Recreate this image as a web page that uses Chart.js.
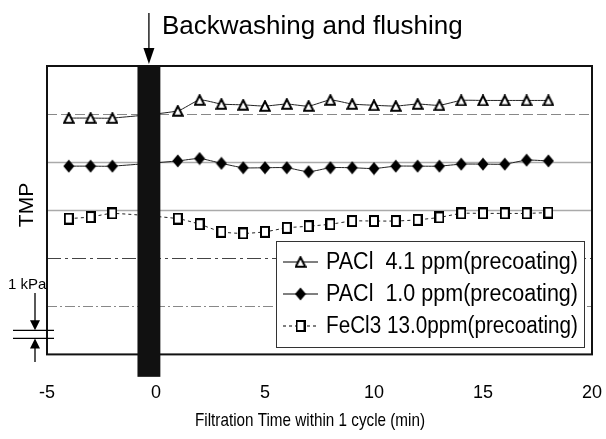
<!DOCTYPE html>
<html><head><meta charset="utf-8">
<script src="https://cdn.jsdelivr.net/npm/chart.js@4.4.1/dist/chart.umd.min.js"></script>
<style>html,body{margin:0;padding:0;background:#fff;overflow:hidden}canvas{display:block}</style>
</head><body><canvas id="c" width="606" height="439"></canvas>
<script>
// ---- data ----
const timesMin = [-4,-3,-2,1,2,3,4,5,6,7,8,9,10,11,12,13,14,15,16,17,18];
const pacl41 = [29.5,29.5,29.5,30.4,31.75,31.25,31.15,31.0,31.25,31.0,31.75,31.25,31.1,31.0,31.25,31.1,31.7,31.7,31.7,31.7,31.7];
const pacl10 = [23.5,23.5,23.5,24.15,24.45,23.85,23.3,23.3,23.3,22.8,23.3,23.3,23.2,23.5,23.5,23.5,23.75,23.75,23.75,24.25,24.15];
const fecl3  = [16.95,17.15,17.6,16.95,16.25,15.3,15.1,15.3,15.8,16.0,16.25,16.65,16.65,16.65,16.8,17.1,17.6,17.6,17.6,17.6,17.7];
const seriesLabels = ['PACl  4.1 ppm(precoating)','PACl  1.0 ppm(precoating)','FeCl3 13.0ppm(precoating)'];
const xTickValues = [-5,0,5,10,15,20];
const xTitle = 'Filtration Time within 1 cycle (min)';
const backwashRange = [-0.85, 0.2];
const kPaScale = [2, 3]; // the 1 kPa bar

const SANS = "'Liberation Sans',Arial,Helvetica,sans-serif";

function mk(w,h,draw){const c=document.createElement('canvas');c.width=w;c.height=h;const g=c.getContext('2d');draw(g);return c;}
const triImg = mk(12,12,g=>{g.beginPath();g.moveTo(6,1.2);g.lineTo(10.8,10.8);g.lineTo(1.2,10.8);g.closePath();g.fillStyle='#fff';g.fill();g.lineWidth=2;g.strokeStyle='#000';g.stroke();});
const diaImg = mk(12,14,g=>{g.beginPath();g.moveTo(6,0.5);g.lineTo(11.5,7);g.lineTo(6,13.5);g.lineTo(0.5,7);g.closePath();g.fillStyle='#000';g.fill();});
const sqImg  = mk(10,12,g=>{g.fillStyle='#fff';g.fillRect(1,1,8,10);g.lineWidth=2;g.strokeStyle='#000';g.strokeRect(1,1,8,10);});

const pts = arr => timesMin.map((t,i)=>({x:t,y:arr[i]}));

function squeezeText(ctx, s, x, y, target){
  const w = ctx.measureText(s).width;
  ctx.save(); ctx.translate(x,y); ctx.scale(target/w,1); ctx.fillText(s,0,0); ctx.restore();
}

const decor = {
  id:'decor',
  beforeDatasetsDraw(chart){
    const {ctx, chartArea:a, scales:{y}} = chart;
    ctx.save();
    const styles = {6:{c:'#888',d:[10,3,2,3],w:1},12:{c:'#444',d:[14,4,3,4],w:1},18:{c:'#aaa',d:[],w:1.5},24:{c:'#aaa',d:[],w:1.5},30:{c:'#888',d:[10,4],w:1}};
    y.ticks.forEach(t=>{
      const s = styles[t.value]; if(!s) return;
      const py = Math.round(y.getPixelForValue(t.value))+0.5;
      ctx.beginPath(); ctx.setLineDash(s.d); ctx.strokeStyle=s.c; ctx.lineWidth=s.w;
      ctx.moveTo(a.left,py); ctx.lineTo(a.right,py); ctx.stroke();
    });
    ctx.restore();
  },
  afterDatasetsDraw(chart){
    const {ctx, chartArea:a, scales:{x,y}} = chart;
    ctx.save();
    // frame
    ctx.setLineDash([]); ctx.strokeStyle='#111'; ctx.lineWidth=2;
    ctx.strokeRect(a.left,a.top,a.right-a.left,a.bottom-a.top);
    // backwash bar
    const bx0 = x.getPixelForValue(backwashRange[0]), bx1 = x.getPixelForValue(backwashRange[1]);
    const byTop = y.getPixelForValue(36.1), byBot = y.getPixelForValue(-2.8);
    ctx.fillStyle='#111'; ctx.fillRect(bx0,byTop,bx1-bx0,byBot-byTop);
    // arrow
    const ax = (bx0+bx1)/2;
    ctx.strokeStyle='#000'; ctx.lineWidth=1.3;
    ctx.beginPath(); ctx.moveTo(ax,13); ctx.lineTo(ax,50); ctx.stroke();
    ctx.fillStyle='#000'; ctx.beginPath(); ctx.moveTo(ax-5.5,48); ctx.lineTo(ax+5.5,48); ctx.lineTo(ax,64); ctx.closePath(); ctx.fill();
    ctx.font = "26px "+SANS; ctx.textBaseline='alphabetic'; ctx.textAlign='left';
    ctx.fillText('Backwashing and flushing', 162, 34);
    // TMP
    ctx.save(); ctx.translate(33, 205); ctx.rotate(-Math.PI/2);
    ctx.font = "21px "+SANS; ctx.textAlign='center'; ctx.textBaseline='alphabetic';
    ctx.fillText('TMP',0,0); ctx.restore();
    // x axis title (condensed)
    ctx.font = "19px "+SANS; ctx.textAlign='left'; ctx.textBaseline='middle';
    squeezeText(ctx, xTitle, 195, 421, 230);
    // 1 kPa annotation
    const k0 = y.getPixelForValue(kPaScale[1]), k1 = y.getPixelForValue(kPaScale[0]);
    ctx.font = "15px "+SANS; ctx.textAlign='left'; ctx.textBaseline='alphabetic';
    ctx.fillText('1 kPa', 8, 289);
    ctx.lineWidth=1.3;
    ctx.beginPath(); ctx.moveTo(13,k0); ctx.lineTo(54,k0); ctx.moveTo(13,k1); ctx.lineTo(54,k1);
    ctx.moveTo(35,293); ctx.lineTo(35,k0-8); ctx.moveTo(35,k1+8); ctx.lineTo(35,362); ctx.stroke();
    ctx.beginPath(); ctx.moveTo(30,k0-10); ctx.lineTo(40,k0-10); ctx.lineTo(35,k0); ctx.closePath(); ctx.fill();
    ctx.beginPath(); ctx.moveTo(30,k1+10); ctx.lineTo(40,k1+10); ctx.lineTo(35,k1); ctx.closePath(); ctx.fill();
    // legend
    const L={l:276,t:241,r:584,b:347};
    ctx.fillStyle='#fff'; ctx.fillRect(L.l,L.t,L.r-L.l,L.b-L.t);
    ctx.strokeStyle='#333'; ctx.lineWidth=1; ctx.strokeRect(L.l+0.5,L.t+0.5,L.r-L.l,L.b-L.t);
    const imgs=[triImg,diaImg,sqImg], dashes=[[],[],[3,3]], rows=[262,294,326];
    ctx.font = "23px "+SANS; ctx.fillStyle='#000'; ctx.textBaseline='middle';
    seriesLabels.forEach((s,i)=>{
      const ry=rows[i];
      ctx.setLineDash(dashes[i]); ctx.strokeStyle='#000'; ctx.lineWidth=1;
      ctx.beginPath(); ctx.moveTo(283,ry); ctx.lineTo(318,ry); ctx.stroke(); ctx.setLineDash([]);
      ctx.drawImage(imgs[i],300.5-imgs[i].width/2,ry-imgs[i].height/2);
      squeezeText(ctx, s, 326, ry+1, 252);
    });
    ctx.restore();
  }
};

new Chart(document.getElementById('c'), {
  type:'line',
  data:{datasets:[
    {label:seriesLabels[0], data:pts(pacl41), borderColor:'#222', borderWidth:1, pointStyle:triImg, pointRadius:6, tension:0.2},
    {label:seriesLabels[1], data:pts(pacl10), borderColor:'#222', borderWidth:1, pointStyle:diaImg, pointRadius:6, tension:0.2},
    {label:seriesLabels[2], data:pts(fecl3),  borderColor:'#222', borderWidth:1, borderDash:[3,3], pointStyle:sqImg, pointRadius:6, tension:0.2}
  ]},
  options:{
    responsive:false, animation:false,
    layout:{padding:{left:47,right:14,top:66,bottom:35}},
    plugins:{legend:{display:false}, tooltip:{enabled:false}},
    scales:{
      x:{type:'linear', min:-5, max:20,
        afterBuildTicks:s=>{s.ticks = xTickValues.map(v=>({value:v}));},
        grid:{display:true, drawOnChartArea:false, drawTicks:true, tickLength:28, color:'rgba(0,0,0,0)'},
        border:{display:false},
        ticks:{color:'#000', padding:0, font:{family:SANS, size:18}}
      },
      y:{type:'linear', min:0, max:36, display:false, ticks:{stepSize:6}}
    }
  },
  plugins:[decor]
});
</script></body></html>
